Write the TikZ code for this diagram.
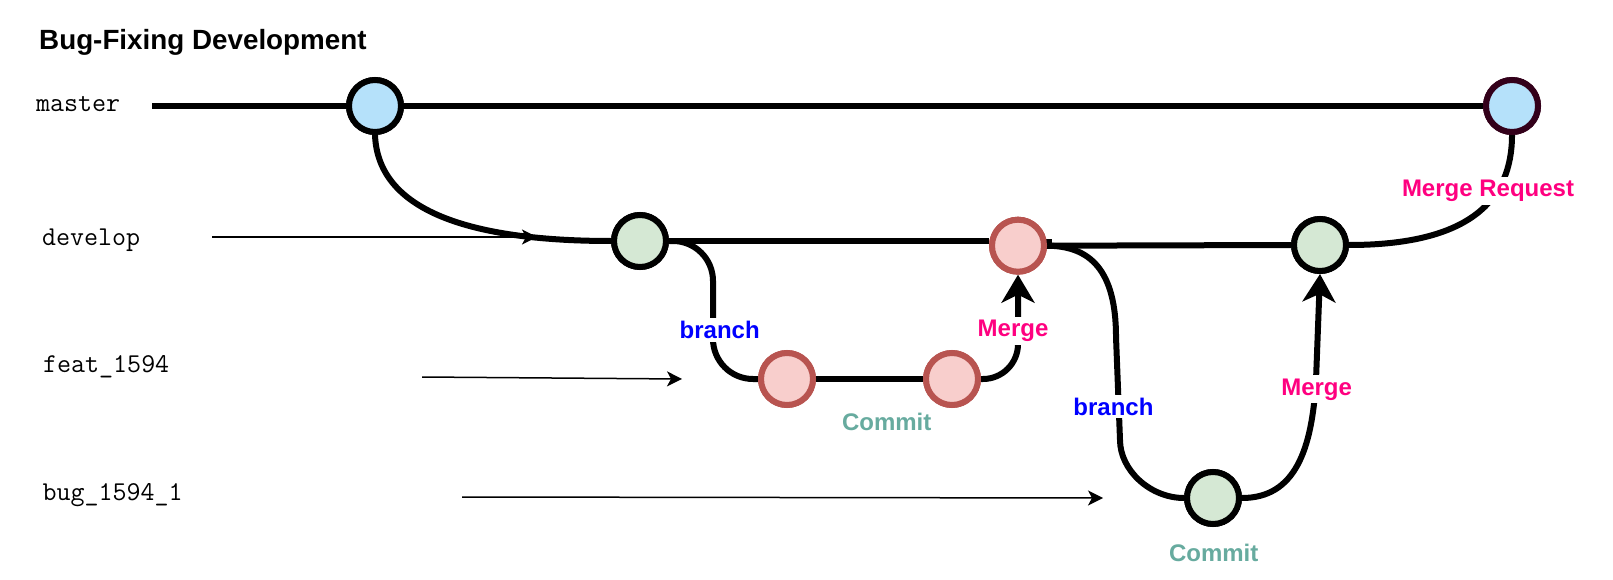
\documentclass[tikz,border=0pt]{standalone}
\usepackage{fontspec}
\setmainfont{Liberation Sans}
\usetikzlibrary{arrows.meta}
\definecolor{mblue}{HTML}{B5E1FA}
\definecolor{mdark}{HTML}{33001A}
\definecolor{gfill}{HTML}{D5E8D4}
\definecolor{rfill}{HTML}{F8CECC}
\definecolor{rline}{HTML}{B85450}
\definecolor{lblue}{HTML}{0000FF}
\definecolor{lpink}{HTML}{FF0080}
\definecolor{lteal}{HTML}{67AB9F}
\begin{document}
\begin{tikzpicture}[x=1pt,y=-1pt,
  commit/.style={circle, minimum size=52pt, inner sep=0pt, line width=6pt},
  mcommit/.style={commit, draw=black, fill=mblue},
  gcommit/.style={commit, draw=black, fill=gfill},
  rcommit/.style={commit, draw=rline, fill=rfill},
  edge/.style={line width=6pt, line cap=butt},
  bigarrow/.style={edge, -{Stealth[length=28pt,width=33pt,inset=8pt]}},
  thinarrow/.style={line width=1.5pt, -{Stealth[length=15pt,width=15pt,inset=4pt]}},
  lbl/.style={font=\bfseries\fontsize{24}{28}\selectfont, fill=white, inner sep=3pt, anchor=base},
  branchlbl/.style={lbl, text=lblue},
  mergelbl/.style={lbl, text=lpink},
  commitlbl/.style={lbl, text=lteal},
  refname/.style={font=\ttfamily\fontsize{27.2}{30}\selectfont, anchor=base west, inner sep=0pt}
]
\useasboundingbox (0,0) rectangle (1613,580);

% title and branch names
\node[anchor=base west, inner sep=0pt, font=\bfseries\fontsize{27.8}{32}\selectfont] (title) at (39,50) {Bug-Fixing Development};
\node[refname] (nmaster) at (36,112) {master};
\node[refname] (ndevelop) at (42,245) {develop};
\node[refname] (nfeat) at (43,372) {feat\_1594};
\node[refname] (nbug) at (42.5,500) {bug\_1594\_1};

% commits
\node[mcommit] (m1) at (375,106) {};
\node[commit, draw=mdark, fill=mblue] (m2) at (1512,106) {};
\node[gcommit] (d1) at (640,241) {};
\node[rcommit] (d2) at (1018,245.7) {};
\node[gcommit] (d3) at (1320,245) {};
\node[rcommit] (f1) at (787,379) {};
\node[rcommit] (f2) at (952,379) {};
\node[gcommit] (b1) at (1213,498) {};

% free ends
\coordinate (mstart) at (152,106);
\coordinate (dvs) at (212,237);
\coordinate (dve) at (537,237);
\coordinate (fs) at (422,377);
\coordinate (fe) at (682,379);
\coordinate (bs) at (462,497);
\coordinate (be) at (1103,498);

% master
\draw[edge] (mstart) -- (m1.west);
\draw[edge] (m1.east) -- (m2.west);
% master -> develop
\draw[edge] (m1.south) .. controls (378,215) and (480,241) .. (d1.west);
% develop
\draw[edge] (d1.east) -- (d1.east -| d2.west);
\draw[edge] (d2.east) -- (d3.west);
\fill (1042,239) rectangle (1052,249);
% feature branch
\draw[edge, rounded corners=40pt] (d1.east) -| (713,379) -- (f1.west);
\draw[edge] (f1.east) -- (f2.west);
\draw[bigarrow, rounded corners=35pt] (f2.east) -| (d2.south);
% bug branch
\draw[edge] (d2.east) .. controls (1090,246) and (1116,270) .. (1116,337) -- (1120,440) .. controls (1120,470) and (1150,498) .. (b1.west);
\draw[bigarrow] (b1.east) .. controls (1295,498) and (1312,450) .. (1316,380) -- (d3.south);
% merge request
\draw[edge] (d3.east) .. controls (1470,245) and (1512,200) .. (m2.south);

% redraw commits on top
\node[mcommit] at (m1) {};
\node[commit, draw=mdark, fill=mblue] at (m2) {};
\node[gcommit] at (d1) {};
\node[rcommit] at (d2) {};
\node[gcommit] at (d3) {};
\node[rcommit] at (f1) {};
\node[rcommit] at (f2) {};
\node[gcommit] at (b1) {};

% thin pointer arrows
\draw[thinarrow] (dvs) -- (dve);
\draw[thinarrow] (fs) -- (fe);
\draw[thinarrow] (bs) -- (be);

% labels
\node[branchlbl] (lb1) at (719.7,338.3) {branch};
\node[mergelbl] (lm1) at (1013,336.7) {Merge};
\node[commitlbl] (lc1) at (886.7,430) {Commit};
\node[branchlbl] (lb2) at (1113.4,415) {branch};
\node[mergelbl] (lm2) at (1316.6,395) {Merge};
\node[mergelbl] (lmr) at (1488,196.7) {Merge Request};
\node[commitlbl] (lc2) at (1213.7,561.7) {Commit};
\end{tikzpicture}
\end{document}
